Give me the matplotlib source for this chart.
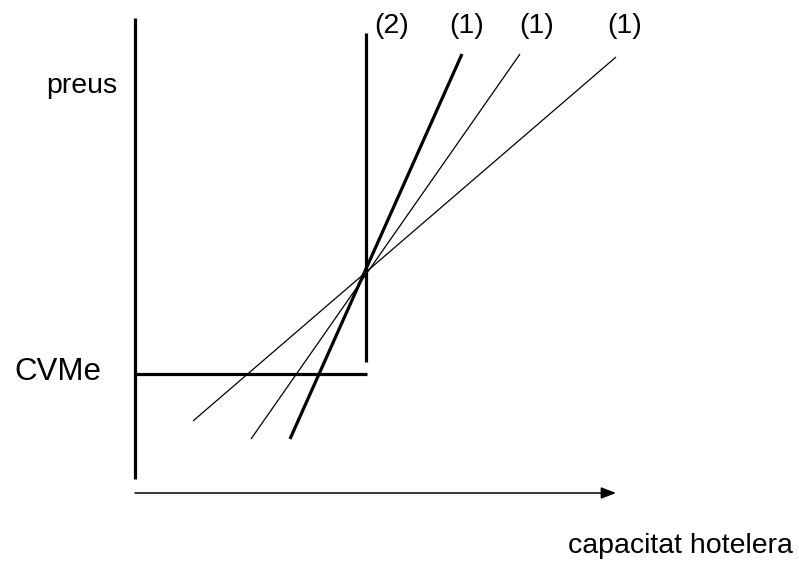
import matplotlib.pyplot as plt

plt.rcParams['font.family'] = ['Liberation Sans', 'DejaVu Sans']

# diagram geometry, in pixel units of the 799x567 canvas (y grows downward)
price_axis_x = [135, 135]
price_axis_y = [18, 479]
cvme_x = [135, 367]
cvme_y = [374, 374]
short_run_x = [366, 366]
short_run_y = [33, 362]

# long-run supply curves (1): lower and upper end points
supply_x0 = [290, 251, 193]
supply_y0 = [439, 439, 421]
supply_x1 = [462, 520, 616]
supply_y1 = [54, 54, 57]
supply_lw = [2.3, 0.9, 0.9]

arrow_start = (135, 493)
arrow_end = (616, 493)

top_labels = ['(2)', '(1)', '(1)', '(1)']
top_label_x = [392, 467, 537, 625]

fig = plt.figure(figsize=(7.99, 5.67), dpi=100)
ax = fig.add_axes([0, 0, 1, 1])
ax.set_xlim(0, 799)
ax.set_ylim(567, 0)
ax.axis('off')

ax.plot(price_axis_x, price_axis_y, color='black', lw=2.3, solid_capstyle='butt')
ax.plot(cvme_x, cvme_y, color='black', lw=2.3, solid_capstyle='butt')
ax.plot(short_run_x, short_run_y, color='black', lw=2.3, solid_capstyle='butt')

for x0, y0, x1, y1, lw in zip(supply_x0, supply_y0, supply_x1, supply_y1, supply_lw):
    ax.plot([x0, x1], [y0, y1], color='black', lw=lw, solid_capstyle='butt')

ax.annotate('', xy=arrow_end, xytext=arrow_start,
            arrowprops=dict(arrowstyle='-|>,head_length=0.9,head_width=0.35',
                            color='black', lw=1.1, shrinkA=0, shrinkB=0))

for lab, x in zip(top_labels, top_label_x):
    ax.text(x, 26, lab, fontsize=20.5, ha='center', va='center')

ax.text(82, 86, 'preus', fontsize=20.5, ha='center', va='center')
ax.text(58, 372, 'CVMe', fontsize=22.5, ha='center', va='center')
ax.text(680, 546, 'capacitat hotelera', fontsize=20.5, ha='center', va='center')

plt.savefig('out.png', dpi=100)
